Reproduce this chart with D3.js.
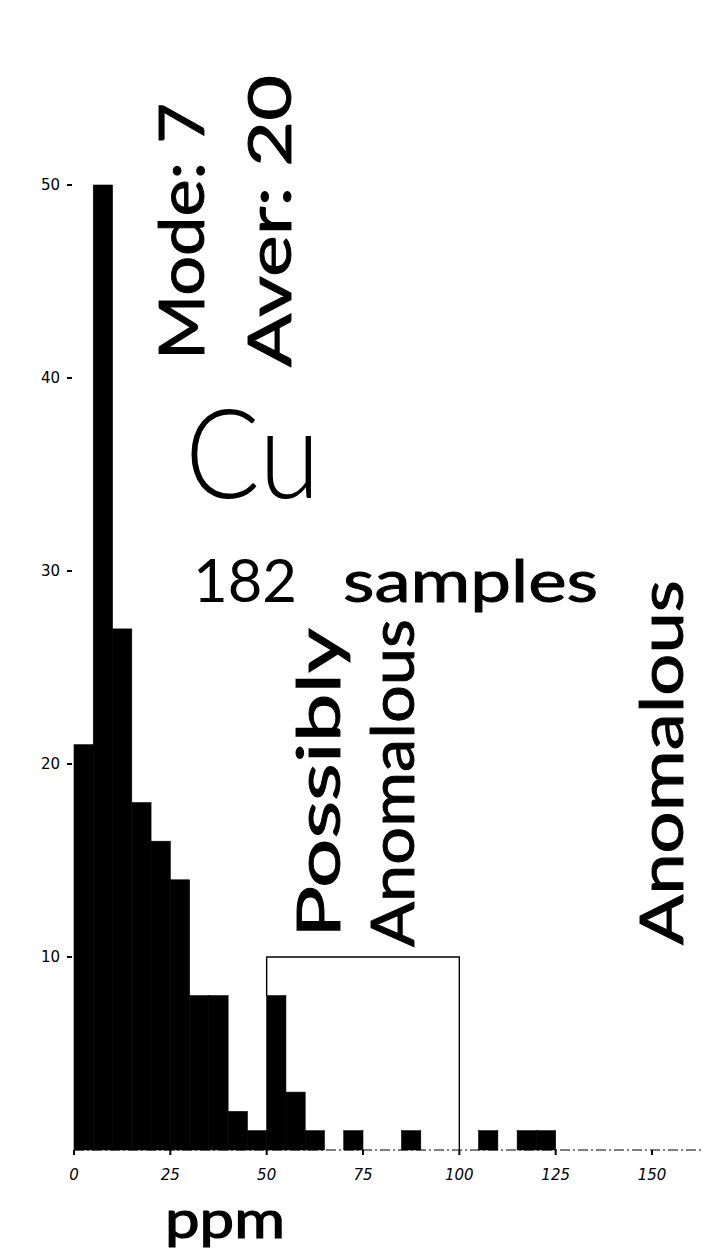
<!DOCTYPE html>
<html>
<head>
<meta charset="utf-8">
<script src="https://cdn.jsdelivr.net/npm/d3@7"></script>
<style>
    body { margin: 0; background: #fff; }
    svg { display: block; }
    .big { font-family: Lato, 'Open Sans', sans-serif; fill: #000; }
    .tick-label { font-family: 'DejaVu Sans', sans-serif; font-size: 15px; fill: #000; }
</style>
</head>
<body>
<svg id="chart"></svg>
<script>
// histogram of Cu values, 5 ppm bins
const binStarts = [0, 5, 10, 15, 20, 25, 30, 35, 40, 45, 50, 55, 60, 65, 70, 75, 80, 85, 90, 95, 100, 105, 110, 115, 120];
const counts    = [21, 50, 27, 18, 16, 14, 8, 8, 2, 1, 8, 3, 1, 0, 1, 0, 0, 1, 0, 0, 0, 1, 0, 1, 1];
const binWidth = 5;

const yTicks = [10, 20, 30, 40, 50];
const xTicks = [0, 25, 50, 75, 100, 125, 150];
const xTickLabels = ['0', '25', '50', '75', '100', '125', '150'];

// bracket around the "possibly anomalous" range
const bracketFrom = 50;
const bracketTo = 100;
const bracketLevel = 10;

const width = 704;
const height = 1252;

const svg = d3.select('#chart')
    .attr('width', width)
    .attr('height', height);

const x = d3.scaleLinear().domain([0, 150]).range([74, 652]);
const y = d3.scaleLinear().domain([0, 50]).range([1150, 185]);

// bars
svg.append('g')
    .attr('class', 'bars')
    .selectAll('rect')
    .data(binStarts.map((b, i) => ({start: b, count: counts[i]})).filter(d => d.count > 0))
    .enter()
    .append('rect')
    .attr('x', d => x(d.start))
    .attr('y', d => y(d.count))
    .attr('width', d => x(d.start + binWidth) - x(d.start))
    .attr('height', d => y(0) - y(d.count))
    .style('fill', '#000')
    .style('stroke', '#000')
    .style('stroke-width', 0.6)
;

// x baseline, runs off to the right edge
svg.append('line')
    .attr('x1', x(0))
    .attr('x2', width)
    .attr('y1', y(0))
    .attr('y2', y(0))
    .style('stroke', '#000')
    .style('stroke-width', 1.2)
    .style('stroke-dasharray', '10,3,2,3')
;

const xAxis = svg.append('g').attr('class', 'x-axis');
xAxis.selectAll('line')
    .data(xTicks)
    .enter()
    .append('line')
    .attr('x1', d => x(d))
    .attr('x2', d => x(d))
    .attr('y1', y(0))
    .attr('y2', y(0) + 5)
    .style('stroke', '#000')
    .style('stroke-width', 2)
;
xAxis.selectAll('text')
    .data(xTicks)
    .enter()
    .append('text')
    .attr('class', 'tick-label')
    .attr('x', d => x(d))
    .attr('y', y(0) + 30)
    .attr('text-anchor', 'middle')
    .style('font-style', 'italic')
    .text((d, i) => xTickLabels[i])
;

const yAxis = svg.append('g').attr('class', 'y-axis');
yAxis.selectAll('line')
    .data(yTicks)
    .enter()
    .append('line')
    .attr('x1', 67)
    .attr('x2', 72)
    .attr('y1', d => y(d))
    .attr('y2', d => y(d))
    .style('stroke', '#000')
    .style('stroke-width', 2)
;
yAxis.selectAll('text')
    .data(yTicks)
    .enter()
    .append('text')
    .attr('class', 'tick-label')
    .attr('x', 60)
    .attr('y', d => y(d) + 5)
    .attr('text-anchor', 'end')
    .text(d => d)
;

// bracket
const bracket = svg.append('g')
    .style('fill', 'none')
    .style('stroke', '#000')
    .style('stroke-width', 1.4);
bracket.append('path')
    .attr('d', d3.line()([
        [x(bracketFrom), y(counts[binStarts.indexOf(bracketFrom)])],
        [x(bracketFrom), y(bracketLevel)],
        [x(bracketTo), y(bracketLevel)],
        [x(bracketTo), y(0)]
    ]))
;

// labels
svg.append('text')
    .attr('class', 'big')
    .attr('x', 225)
    .attr('y', 1238)
    .attr('text-anchor', 'middle')
    .attr('textLength', 120)
    .attr('lengthAdjust', 'spacingAndGlyphs')
    .style('font-size', '52px')
    .style('font-weight', 400)
    .style('stroke', '#000')
    .style('stroke-width', 1.2)
    .text('ppm')
;

var rotated = [
    {text: 'Mode: 7', x: 204, y: 360, len: 257, size: 62},
    {text: 'Aver: 20', x: 291, y: 367, len: 292, size: 60},
    {text: 'Possibly', x: 340, y: 938, len: 310, size: 60},
    {text: 'Anomalous', x: 414, y: 947, len: 328, size: 60},
    {text: 'Anomalous', x: 683, y: 945, len: 365, size: 60}
];
svg.append('g')
    .selectAll('text')
    .data(rotated)
    .enter()
    .append('text')
    .attr('class', 'big')
    .attr('transform', d => `translate(${d.x},${d.y}) rotate(-90)`)
    .attr('textLength', d => d.len)
    .attr('lengthAdjust', 'spacingAndGlyphs')
    .style('font-size', d => d.size + 'px')
    .style('font-weight', 400)
    .style('stroke', '#000')
    .style('stroke-width', 0.9)
    .text(d => d.text)
;

svg.append('text')
    .attr('class', 'big')
    .attr('x', 185)
    .attr('y', 498)
    .attr('textLength', 135)
    .attr('lengthAdjust', 'spacingAndGlyphs')
    .style('font-size', '124px')
    .style('font-weight', 300)
    .text('Cu')
;

svg.append('text')
    .attr('class', 'big')
    .attr('x', 193)
    .attr('y', 602)
    .attr('textLength', 104)
    .attr('lengthAdjust', 'spacingAndGlyphs')
    .style('font-size', '60px')
    .style('font-weight', 400)
    .text('182')
;
svg.append('text')
    .attr('class', 'big')
    .attr('x', 343)
    .attr('y', 602)
    .attr('textLength', 255)
    .attr('lengthAdjust', 'spacingAndGlyphs')
    .style('font-size', '58px')
    .style('font-weight', 400)
    .style('stroke', '#000')
    .style('stroke-width', 0.9)
    .text('samples')
;
</script>
</body>
</html>
